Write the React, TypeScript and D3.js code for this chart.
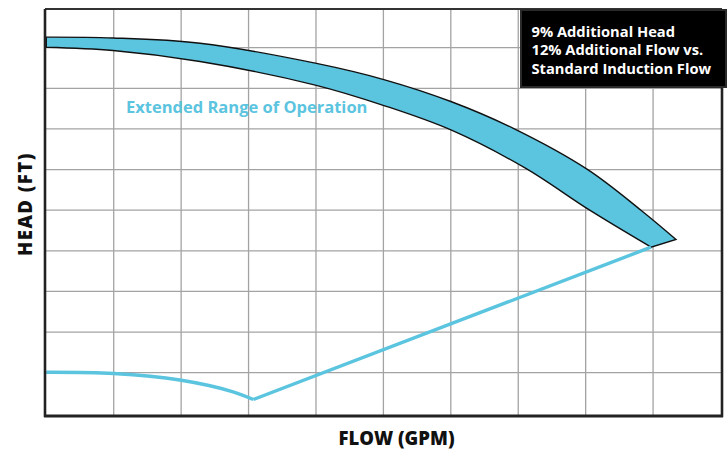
import React from "react";
import * as d3 from "d3";

// ---- data (axes carry no tick labels) ----
const gridFlow = [0, 1, 2, 3, 4, 5, 6, 7, 8, 9, 10];
const gridHead = [0, 1, 2, 3, 4, 5, 6, 7, 8, 9, 10];

const bandTopFlow = [0, 0.99, 2.28, 3.99, 5.02, 6.01, 6.92, 8.02, 8.82, 9.34];
const bandTopHead = [9.26, 9.24, 9.11, 8.62, 8.21, 7.67, 7.02, 6.01, 5.0, 4.28];
const bandBottomFlow = [0, 0.99, 2.28, 3.99, 5.02, 6.01, 7.1, 8.06, 8.97];
const bandBottomHead = [9.01, 8.93, 8.66, 8.08, 7.57, 6.97, 6.04, 5.0, 4.09];

const minCurveFlow = [0, 1.0, 1.98, 2.77, 3.07];
const minCurveHead = [1.01, 0.98, 0.82, 0.53, 0.34];
const rampFlow = [3.07, 8.97];
const rampHead = [0.34, 4.09];

const legendLines = ["9% Additional Head", "12% Additional Flow vs.", "Standard Induction Flow"];
const bandLabel = "Extended Range of Operation";
const xTitle = "FLOW (GPM)";
const yTitle = "HEAD (FT)";

const W = 727;
const H = 449;
const CYAN = "#5bc4df";
const FONT = "'Open Sans', Lato, sans-serif";

export default function App() {
  const x = d3.scaleLinear().domain([0, 10]).range([46.3, 720.5]);
  const y = d3.scaleLinear().domain([0, 10]).range([413.3, 7.1]);
  const frame = { left: 45, right: 722, top: 9, bottom: 416 };

  const zip = (a: number[], b: number[]) => a.map((v, i) => [v, b[i]] as [number, number]);
  const top = zip(bandTopFlow, bandTopHead);
  const bottom = zip(bandBottomFlow, bandBottomHead);

  const smooth = d3
    .line<[number, number]>()
    .x((d) => x(d[0]))
    .y((d) => y(d[1]))
    .curve(d3.curveCatmullRom.alpha(0.5));
  const straight = d3
    .line<[number, number]>()
    .x((d) => x(d[0]))
    .y((d) => y(d[1]));

  const topPath = smooth(top) as string;
  const bottomRev = smooth(bottom.slice().reverse()) as string;
  const bandPath = topPath + "L" + bottomRev.slice(1) + "Z";

  const minPath = smooth(zip(minCurveFlow, minCurveHead)) as string;
  const rampPath = straight(zip(rampFlow, rampHead)) as string;

  return (
    <svg
      width={W}
      height={H}
      style={{ position: "absolute", left: 0, top: 0, background: "#fff" }}
      fontFamily={FONT}
    >
      <defs>
        <clipPath id="plot">
          <rect x={frame.left} y={frame.top} width={frame.right - frame.left} height={frame.bottom - frame.top} />
        </clipPath>
      </defs>
      <rect x={0} y={0} width={W} height={H} fill="#fff" />
      {/* grid */}
      <g stroke="#a3a3a3" strokeWidth={1.3}>
        {gridFlow.slice(1, -1).map((v) => (
          <line key={"gx" + v} x1={x(v)} x2={x(v)} y1={frame.top} y2={frame.bottom} />
        ))}
        {gridHead.slice(1, -1).map((v) => (
          <line key={"gy" + v} x1={frame.left} x2={frame.right} y1={y(v)} y2={y(v)} />
        ))}
      </g>
      {/* band and operating lines */}
      <g clipPath="url(#plot)">
        <path d={bandPath} fill={CYAN} stroke="#111" strokeWidth={1.4} strokeLinejoin="miter" />
        <path d={minPath} fill="none" stroke={CYAN} strokeWidth={3.4} />
        <path d={rampPath} fill="none" stroke={CYAN} strokeWidth={3.4} />
      </g>
      {/* frame */}
      <line x1={frame.left} x2={frame.right} y1={frame.top} y2={frame.top} stroke="#333" strokeWidth={1.8} />
      <line x1={frame.left} x2={frame.left} y1={frame.top} y2={frame.bottom + 1} stroke="#222" strokeWidth={2.6} />
      <line x1={frame.right} x2={frame.right} y1={frame.top} y2={frame.bottom + 1} stroke="#222" strokeWidth={2.6} />
      <line x1={frame.left - 1} x2={frame.right + 1} y1={frame.bottom} y2={frame.bottom} stroke="#222" strokeWidth={2.8} />
      {/* legend box */}
      <rect x={521} y={10} width={205} height={77} fill="#000" stroke="#2a2a2a" strokeWidth={2} />
      {legendLines.map((t, i) => (
        <text key={t} x={531.5} y={36.7 + i * 18.4} fill="#fff" fontSize={14.7} fontWeight={700}>
          {t}
        </text>
      ))}
      {/* band label */}
      <text x={126} y={113.3} fill={CYAN} fontSize={16.5} fontWeight={700}>
        {bandLabel}
      </text>
      {/* axis titles */}
      <text x={396.5} y={445} textAnchor="middle" fill="#111" fontSize={18.5} fontWeight={800}>
        {xTitle}
      </text>
      <text
        transform={`translate(32,204) rotate(-90)`}
        textAnchor="middle"
        fill="#111"
        fontSize={18.5}
        fontWeight={800}
        letterSpacing={1.5}
      >
        {yTitle}
      </text>
    </svg>
  );
}
